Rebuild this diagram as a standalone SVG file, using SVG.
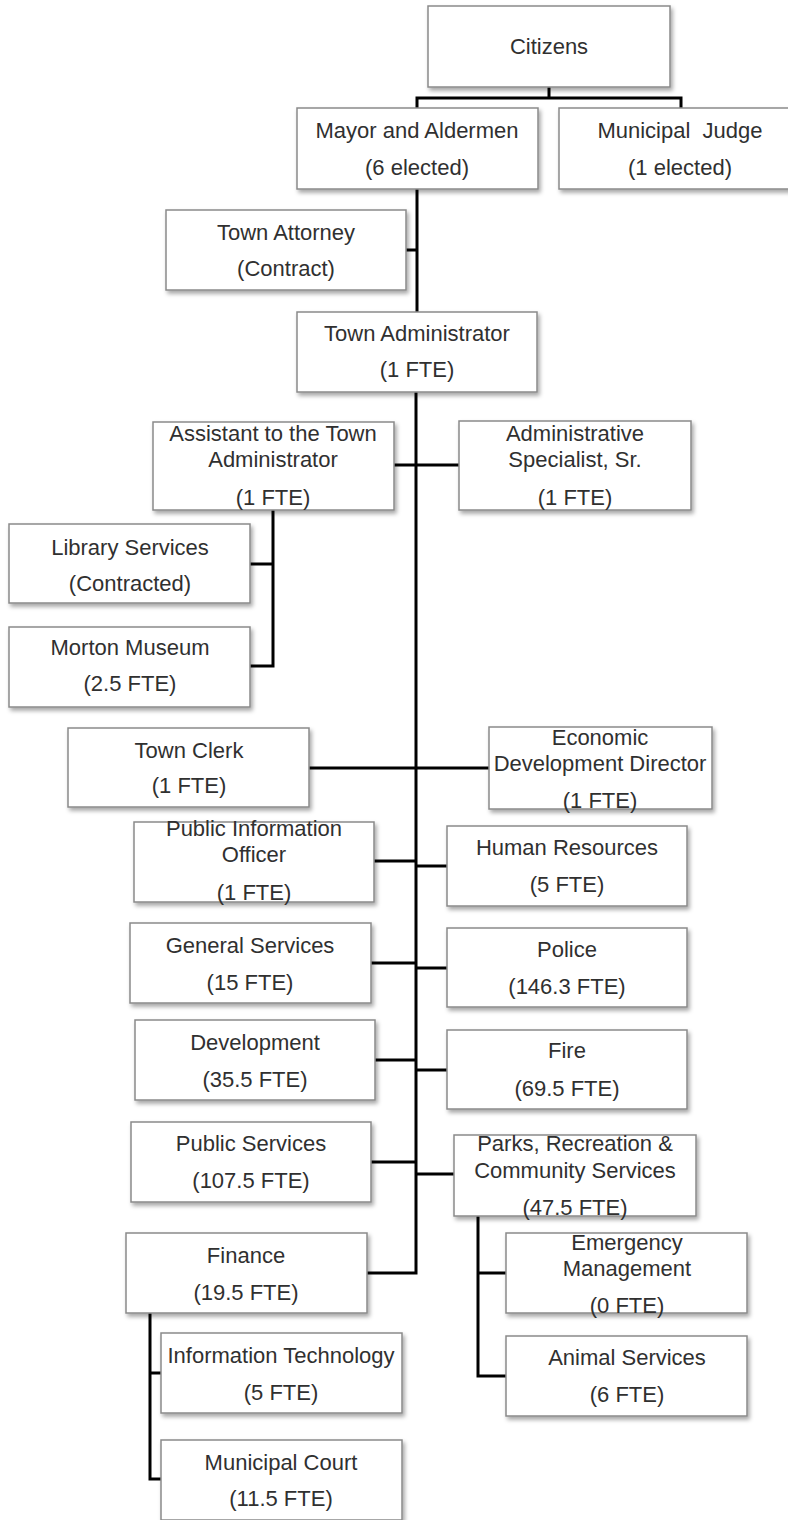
<svg xmlns="http://www.w3.org/2000/svg" width="788" height="1520" viewBox="0 0 788 1520">
<defs>
<filter id="sh" x="-10%" y="-10%" width="130%" height="140%">
<feDropShadow dx="2" dy="3" stdDeviation="2" flood-color="#000" flood-opacity="0.35"/>
</filter>
<style>
.b{fill:#fff;stroke:#8a8a8a;stroke-width:1.5;filter:url(#sh)}
.t{font-family:"Liberation Sans",Arial,sans-serif;font-size:22px;fill:#303030;text-anchor:middle;dominant-baseline:central}
.c{fill:none;stroke:#000;stroke-width:3}
</style>
</defs>
<rect width="788" height="1520" fill="#fff"/>
<g id="connectors">
<path class="c" d="M549,87 V98 M417,108 V98 H681 V108"/>
<path class="c" d="M417,189 V312 M406,250 H417"/>
<path class="c" d="M416,392 V1273 H367"/>
<path class="c" d="M394,465 H459"/>
<path class="c" d="M273,510 V666 H250 M250,564 H273"/>
<path class="c" d="M309,768 H489"/>
<path class="c" d="M374,861 H416 M416,866 H447"/>
<path class="c" d="M371,963 H416 M416,968 H447"/>
<path class="c" d="M375,1060 H416 M416,1070 H447"/>
<path class="c" d="M371,1162 H416 M416,1174 H454"/>
<path class="c" d="M478,1216 V1376 H506 M478,1273 H506"/>
<path class="c" d="M150,1313 V1479 H161 M150,1373 H161"/>
</g>
<g id="citizens"><rect class="b" x="428" y="6" width="242" height="81"/><text class="t" x="549" y="46">Citizens</text></g>
<g id="mayor"><rect class="b" x="297" y="108" width="241" height="81"/><text class="t" x="417" y="130">Mayor and Aldermen</text><text class="t" x="417" y="167">(6 elected)</text></g>
<g id="judge"><rect class="b" x="559" y="108" width="241" height="81"/><text class="t" x="680" y="130" xml:space="preserve">Municipal  Judge</text><text class="t" x="680" y="167">(1 elected)</text></g>
<g id="attorney"><rect class="b" x="166" y="210" width="240" height="80"/><text class="t" x="286" y="232">Town Attorney</text><text class="t" x="286" y="268">(Contract)</text></g>
<g id="administrator"><rect class="b" x="297" y="312" width="240" height="80"/><text class="t" x="417" y="333">Town Administrator</text><text class="t" x="417" y="369">(1 FTE)</text></g>
<g id="assistant"><rect class="b" x="153" y="422" width="241" height="88"/><text class="t" x="273" y="433">Assistant to the Town</text><text class="t" x="273" y="459">Administrator</text><text class="t" x="273" y="497">(1 FTE)</text></g>
<g id="adminspec"><rect class="b" x="459" y="421" width="232" height="89"/><text class="t" x="575" y="433">Administrative</text><text class="t" x="575" y="459">Specialist, Sr.</text><text class="t" x="575" y="497">(1 FTE)</text></g>
<g id="library"><rect class="b" x="9" y="524" width="241" height="79"/><text class="t" x="130" y="547">Library Services</text><text class="t" x="130" y="583">(Contracted)</text></g>
<g id="morton"><rect class="b" x="9" y="627" width="241" height="80"/><text class="t" x="130" y="647">Morton Museum</text><text class="t" x="130" y="683">(2.5 FTE)</text></g>
<g id="clerk"><rect class="b" x="68" y="728" width="241" height="79"/><text class="t" x="189" y="750">Town Clerk</text><text class="t" x="189" y="785">(1 FTE)</text></g>
<g id="econ"><rect class="b" x="489" y="727" width="223" height="82"/><text class="t" x="600" y="737">Economic</text><text class="t" x="600" y="763">Development Director</text><text class="t" x="600" y="800">(1 FTE)</text></g>
<g id="pio"><rect class="b" x="134" y="822" width="240" height="80"/><text class="t" x="254" y="828">Public Information</text><text class="t" x="254" y="854">Officer</text><text class="t" x="254" y="892">(1 FTE)</text></g>
<g id="hr"><rect class="b" x="447" y="826" width="240" height="80"/><text class="t" x="567" y="847">Human Resources</text><text class="t" x="567" y="884">(5 FTE)</text></g>
<g id="general"><rect class="b" x="130" y="923" width="241" height="80"/><text class="t" x="250" y="945">General Services</text><text class="t" x="250" y="982">(15 FTE)</text></g>
<g id="police"><rect class="b" x="447" y="928" width="240" height="79"/><text class="t" x="567" y="949">Police</text><text class="t" x="567" y="986">(146.3 FTE)</text></g>
<g id="development"><rect class="b" x="135" y="1020" width="240" height="80"/><text class="t" x="255" y="1042">Development</text><text class="t" x="255" y="1079">(35.5 FTE)</text></g>
<g id="fire"><rect class="b" x="447" y="1030" width="240" height="79"/><text class="t" x="567" y="1050">Fire</text><text class="t" x="567" y="1088">(69.5 FTE)</text></g>
<g id="publicservices"><rect class="b" x="131" y="1122" width="240" height="80"/><text class="t" x="251" y="1143">Public Services</text><text class="t" x="251" y="1180">(107.5 FTE)</text></g>
<g id="parks"><rect class="b" x="454" y="1135" width="242" height="81"/><text class="t" x="575" y="1143">Parks, Recreation &amp;</text><text class="t" x="575" y="1170">Community Services</text><text class="t" x="575" y="1207">(47.5 FTE)</text></g>
<g id="finance"><rect class="b" x="126" y="1233" width="241" height="80"/><text class="t" x="246" y="1255">Finance</text><text class="t" x="246" y="1292">(19.5 FTE)</text></g>
<g id="emergency"><rect class="b" x="506" y="1233" width="241" height="80"/><text class="t" x="627" y="1242">Emergency</text><text class="t" x="627" y="1268">Management</text><text class="t" x="627" y="1305">(0 FTE)</text></g>
<g id="animal"><rect class="b" x="506" y="1336" width="241" height="80"/><text class="t" x="627" y="1357">Animal Services</text><text class="t" x="627" y="1394">(6 FTE)</text></g>
<g id="it"><rect class="b" x="161" y="1333" width="241" height="80"/><text class="t" x="281" y="1355">Information Technology</text><text class="t" x="281" y="1392">(5 FTE)</text></g>
<g id="court"><rect class="b" x="161" y="1440" width="241" height="80"/><text class="t" x="281" y="1462">Municipal Court</text><text class="t" x="281" y="1498">(11.5 FTE)</text></g>
</svg>
